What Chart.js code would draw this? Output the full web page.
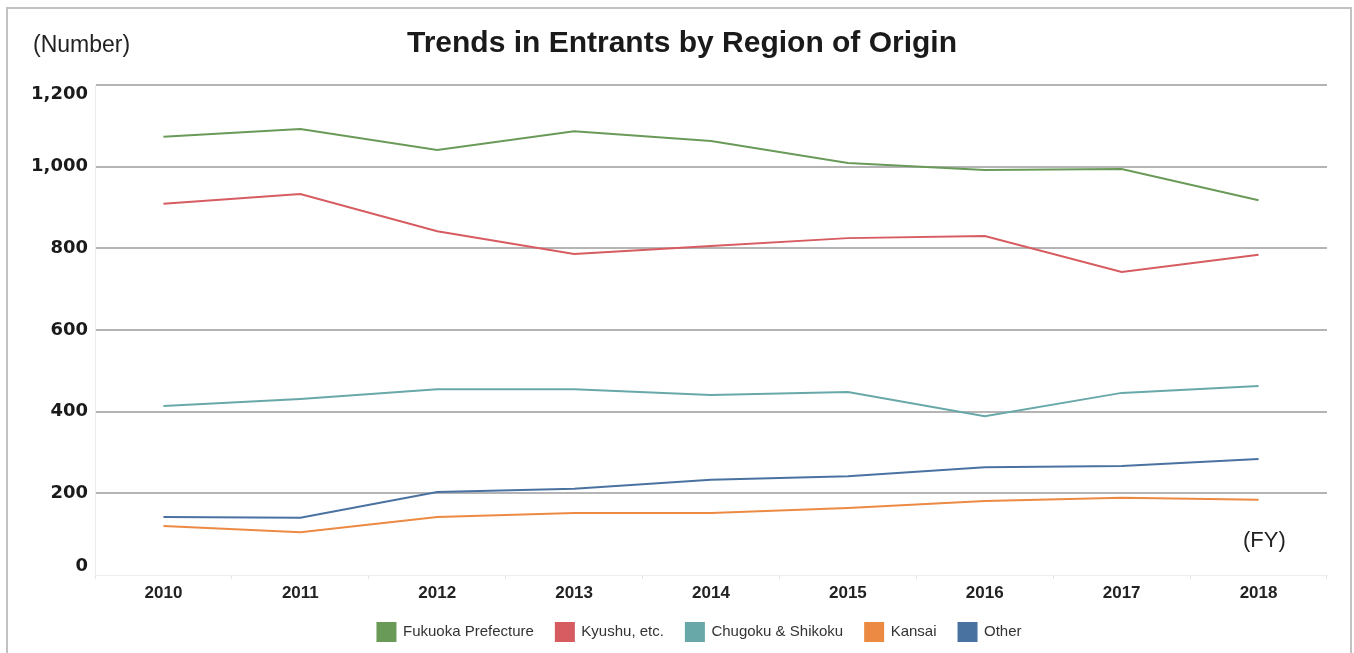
<!DOCTYPE html>
<html>
<head>
<meta charset="utf-8">
<script src="https://cdn.jsdelivr.net/npm/chart.js@4/dist/chart.umd.min.js"></script>
<style>
  html, body { margin: 0; padding: 0; background: #ffffff; }
  #wrap { width: 1354px; height: 653px; }
</style>
</head>
<body>
<div id="wrap"><canvas id="c" width="1354" height="653"></canvas></div>
<script>
const years = ['2010', '2011', '2012', '2013', '2014', '2015', '2016', '2017', '2018'];
const fukuoka = [1073, 1092, 1041, 1087, 1063, 1009, 992, 994, 918];
const kyushu  = [909, 933, 842, 786, 806, 825, 830, 742, 784];
const chugoku = [414, 431, 455, 455, 441, 448, 389, 446, 463];
const kansai  = [120, 105, 142, 152, 152, 164, 181, 189, 184];
const other   = [142, 140, 203, 211, 233, 242, 264, 267, 284];
const yTicks  = [0, 200, 400, 600, 800, 1000, 1200];

const titleText = 'Trends in Entrants by Region of Origin';
const yUnit = '(Number)';
const xUnit = '(FY)';

function ds(label, data, color) {
  return {
    label: label, data: data,
    borderColor: color, backgroundColor: color,
    borderWidth: 2, pointRadius: 0, pointHoverRadius: 0,
    tension: 0, fill: false
  };
}

const decor = {
  id: 'decor',
  afterLayout(chart) {
    // centre the legend under the plot region like the reference
    const lg = chart.legend;
    if (lg) { lg.left += 36; lg.right += 36; }
  },
  afterDraw(chart) {
    const ctx = chart.ctx;
    ctx.save();
    // frame
    ctx.strokeStyle = '#c2c2c2';
    ctx.lineWidth = 2;
    ctx.beginPath();
    ctx.moveTo(7, 660);
    ctx.lineTo(7, 8);
    ctx.lineTo(1351, 8);
    ctx.lineTo(1351, 660);
    ctx.stroke();
    // title
    ctx.fillStyle = '#1a1a1a';
    ctx.font = 'bold 30px "Liberation Sans", Arial, sans-serif';
    ctx.textAlign = 'center';
    ctx.textBaseline = 'middle';
    ctx.fillText(titleText, 682, 44);
    // units
    ctx.fillStyle = '#222222';
    ctx.font = '23px "Liberation Sans", Arial, sans-serif';
    ctx.textAlign = 'left';
    ctx.fillText(yUnit, 33, 46);
    ctx.font = '22px "Liberation Sans", Arial, sans-serif';
    ctx.fillText(xUnit, 1243, 541);
    ctx.restore();
  }
};

new Chart(document.getElementById('c'), {
  type: 'line',
  data: {
    labels: years,
    datasets: [
      ds('Fukuoka Prefecture', fukuoka, '#6a9a58'),
      ds('Kyushu, etc.', kyushu, '#d65c61'),
      ds('Chugoku & Shikoku', chugoku, '#68a8a8'),
      ds('Kansai', kansai, '#ec8a44'),
      ds('Other', other, '#4a72a0')
    ]
  },
  options: {
    responsive: false,
    animation: false,
    devicePixelRatio: 1,
    layout: { padding: { top: 85, right: 27, left: 0, bottom: 2 } },
    plugins: {
      title: { display: false },
      tooltip: { enabled: false },
      legend: {
        position: 'bottom',
        labels: {
          boxWidth: 18, boxHeight: 18, padding: 22,
          color: '#333333',
          font: { family: '"Liberation Sans", Arial, sans-serif', size: 15 }
        }
      }
    },
    scales: {
      x: {
        offset: true,
        grid: {
          offset: true, drawOnChartArea: false, drawTicks: true,
          tickLength: 4, color: '#e4e4e4'
        },
        border: { display: true, color: '#eeeeee', width: 1 },
        ticks: {
          color: '#222222', padding: 4,
          font: { family: '"Liberation Sans", Arial, sans-serif', size: 17, weight: 'bold' }
        },
        afterFit(scale) { scale.height = 26; }
      },
      y: {
        min: 0, max: 1200,
        afterBuildTicks(scale) { scale.ticks = yTicks.map(v => ({ value: v })); },
        grid: {
          drawTicks: false,
          color: (c) => c.tick && c.tick.value === 0 ? '#f0f0f0' : '#b4b4b4',
          lineWidth: (c) => c.tick && c.tick.value === 0 ? 1 : 2
        },
        border: { display: true, color: '#ececec', width: 1 },
        ticks: {
          color: '#1a1a1a', padding: 7,
          font: { family: '"DejaVu Sans", sans-serif', size: 18, weight: 'bold', lineHeight: 1.0 },
          callback: (v) => {
            const s = v.toLocaleString('en-US');
            // edge labels sit inside the plot like the reference
            if (v === 1200) return ['', s];
            if (v === 0) return [s, ''];
            return s;
          }
        },
        afterFit(scale) { scale.width = 95; }
      }
    }
  },
  plugins: [decor]
});
</script>
</body>
</html>
